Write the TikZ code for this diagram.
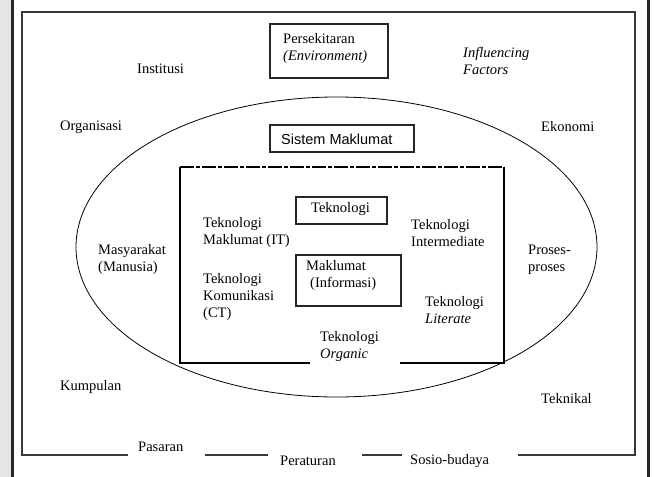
\documentclass[tikz,border=0pt]{standalone}
\usepackage{fontspec}
\setmainfont{Liberation Serif}
\newfontfamily\arialfont{Liberation Sans}
\begin{document}
\begin{tikzpicture}[x=1pt,y=-1pt,
  lbl/.style={anchor=west,inner sep=0pt,align=left,font=\fontsize{14.5}{17}\selectfont},
  boxline/.style={draw=black!85,line width=1.3pt},
  framelines/.style={draw=black!78,line width=1.6pt},
  inner/.style={draw=black,line width=2pt},
  oval/.style={draw=black,line width=0.8pt}]
\useasboundingbox (0,0) rectangle (654,477);
\fill[white] (0,0) rectangle (654,477);
\fill[black!10] (0,0) rectangle (11,477);
\fill[black!85] (11,0) rectangle (14,477);
\fill[black!85] (647,0) rectangle (650,477);
% outer frame
\draw[framelines] (128,455) -- (22,455) -- (22,12) -- (635,12) -- (635,455) -- (518,455);
\draw[framelines] (205,455) -- (268,455);
\draw[framelines] (362,455) -- (402,455);
% ellipse
\draw[oval] (336.5,247) ellipse [x radius=260.5, y radius=150];
% inner rectangle
\draw[draw=black,line width=1.3pt,dash pattern=on 14pt off 2pt on 4pt off 2pt] (180,167) -- (504,167);
\draw[inner] (180,166.5) -- (180,363) -- (310,363);
\draw[inner] (400,363) -- (504,363);
\draw[draw=black,line width=1.5pt] (504,363.8) -- (504,166.5);
\draw[inner] (504,363.8) -- (504,340);
% boxes
\draw[boxline] (270,24) rectangle (388,78);
\draw[boxline] (270,125) rectangle (414,152);
\draw[boxline] (296,197) rectangle (387,224);
\draw[boxline] (296,255) rectangle (401,306);
% texts
\node[lbl] (env) at (283,49) {Persekitaran\\\textit{(Environment)}};
\node[lbl] (sm) at (281,139) {\arialfont\fontsize{14.5}{17}\selectfont Sistem Maklumat};
\node[lbl] (tek) at (311,209) {Teknologi};
\node[lbl] (mak) at (306,276) {Maklumat\\\hspace{4pt}(Informasi)};
\node[lbl] (inst) at (137,69) {Institusi};
\node[lbl] (infl) at (463,61) {\textit{Influencing}\\\textit{Factors}};
\node[lbl] (org) at (60,127) {Organisasi};
\node[lbl] (eko) at (541,127) {Ekonomi};
\node[lbl] (tit) at (203,233) {Teknologi\\Maklumat (IT)};
\node[lbl] (tct) at (203,297) {Teknologi\\Komunikasi\\(CT)};
\node[lbl] (mas) at (98,260) {Masyarakat\\(Manusia)};
\node[lbl] (tint) at (411,233) {Teknologi\\Intermediate};
\node[lbl] (pro) at (528,260) {Proses-\\proses};
\node[lbl] (tlit) at (425,310) {Teknologi\\\textit{Literate}};
\node[lbl] (torg) at (320,347) {Teknologi\\\textit{Organic}};
\node[lbl] (kum) at (60,387) {Kumpulan};
\node[lbl] (tekn) at (541,399) {Teknikal};
\node[lbl] (pas) at (138,447) {Pasaran};
\node[lbl] (per) at (280,461) {Peraturan};
\node[lbl] (sos) at (410,461) {Sosio-budaya};
\end{tikzpicture}
\end{document}
